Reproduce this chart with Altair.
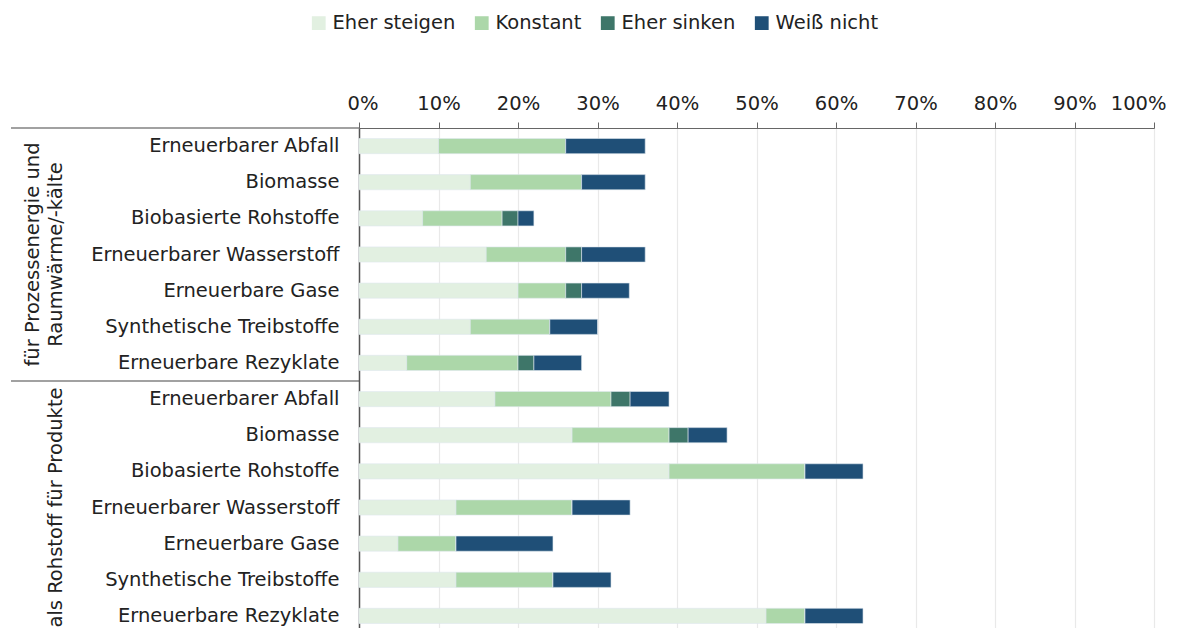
import altair as alt
import pandas as pd

categories = ["Erneuerbarer Abfall", "Biomasse", "Biobasierte Rohstoffe",
              "Erneuerbarer Wasserstoff", "Erneuerbare Gase",
              "Synthetische Treibstoffe", "Erneuerbare Rezyklate"]
groups = ["für Prozessenergie und Raumwärme/-kälte", "als Rohstoff für Produkte"]
series = ["Eher steigen", "Konstant", "Eher sinken", "Weiß nicht"]
colors = ["#e2f0e1", "#acd7a9", "#3e7669", "#1f4f77"]

# group 1: für Prozessenergie und Raumwärme/-kälte
steigen_g1 = [10, 14, 8, 16, 20, 14, 6]
konstant_g1 = [16, 14, 10, 10, 6, 10, 14]
sinken_g1 = [0, 0, 2, 2, 2, 0, 2]
weiss_g1 = [10, 8, 2, 8, 6, 6, 6]
# group 2: als Rohstoff für Produkte
steigen_g2 = [17.1, 26.8, 39.0, 12.2, 4.9, 12.2, 51.2]
konstant_g2 = [14.6, 12.2, 17.1, 14.6, 7.3, 12.2, 4.9]
sinken_g2 = [2.4, 2.4, 0, 0, 0, 0, 0]
weiss_g2 = [4.9, 4.9, 7.3, 7.3, 12.2, 7.3, 7.3]

x_ticks = [0, 10, 20, 30, 40, 50, 60, 70, 80, 90, 100]

rows = []
order_keys = []
for gi, vals in enumerate([(steigen_g1, konstant_g1, sinken_g1, weiss_g1),
                           (steigen_g2, konstant_g2, sinken_g2, weiss_g2)]):
    for ci, cat in enumerate(categories):
        key = f"{gi}{ci}|{cat}"
        order_keys.append(key)
        for si, s in enumerate(series):
            rows.append({"row": key, "group": groups[gi], "series": s,
                         "sidx": si, "value": vals[si][ci]})
df = pd.DataFrame(rows)

FONT = "DejaVu Sans"
FS = 19.5
W = 795
H = 506

ysc = alt.Y("row:N", sort=order_keys,
            scale=alt.Scale(paddingInner=0.58, paddingOuter=0.29),
            axis=alt.Axis(title=None, labelExpr="split(datum.label, '|')[1]",
                          ticks=False, domain=True, domainColor="#555",
                          domainWidth=1.5, labelFontSize=FS, labelFont=FONT,
                          labelColor="#222", labelPadding=20, labelLimit=400))

bars = alt.Chart(df).mark_bar(stroke="#dfe8ee", strokeWidth=0.6).encode(
    x=alt.X("value:Q", stack="zero",
            scale=alt.Scale(domain=[0, 100]),
            axis=alt.Axis(orient="top", values=x_ticks, title=None,
                          labelExpr="datum.value + '%'", labelFontSize=FS,
                          labelFont=FONT, labelColor="#222", labelPadding=9,
                          labelFlush=True, labelFlushOffset=12,
                          tickSize=6, tickColor="#666", domainColor="#666",
                          gridColor="#e9e9e9", gridWidth=1.2)),
    y=ysc,
    color=alt.Color("series:N", sort=series,
                    scale=alt.Scale(domain=series, range=colors),
                    legend=alt.Legend(title=None, orient="none", direction="horizontal",
                                      legendX=-50, legendY=-115,
                                      symbolType="square", symbolSize=190,
                                      symbolStrokeWidth=0, labelFontSize=FS,
                                      labelFont=FONT, labelColor="#222",
                                      columnPadding=16, labelOffset=4)),
    order=alt.Order("sidx:Q"),
)

glab = pd.DataFrame({
    "row": [order_keys[3], order_keys[3], order_keys[10]],
    "txt": ["für Prozessenergie und", "Raumwärme/-kälte", "als Rohstoff für Produkte"],
    "dx": [-326, -303, -303],
})
group_text = alt.Chart(glab).mark_text(angle=270, fontSize=FS, font=FONT,
                                       color="#222", baseline="middle",
                                       align="center").encode(
    y=alt.Y("row:N", sort=order_keys),
    x=alt.X("dx:Q", scale=None),
    text="txt:N",
)

sep = pd.DataFrame({"y": [0, H / 2], "x1": [-348, -348], "x2": [0, 0]})
sep_rules = alt.Chart(sep).mark_rule(color="#444", strokeWidth=1.2).encode(
    y=alt.Y("y:Q", scale=None),
    x=alt.X("x1:Q", scale=None),
    x2="x2:Q",
)

chart = alt.layer(bars, group_text, sep_rules).properties(
    width=W, height=H,
    padding={"left": 2, "top": 5, "right": 0, "bottom": 5},
).configure_view(stroke=None).configure(font=FONT)

chart.save("out.html", embed_options={"renderer": "svg", "actions": False})
